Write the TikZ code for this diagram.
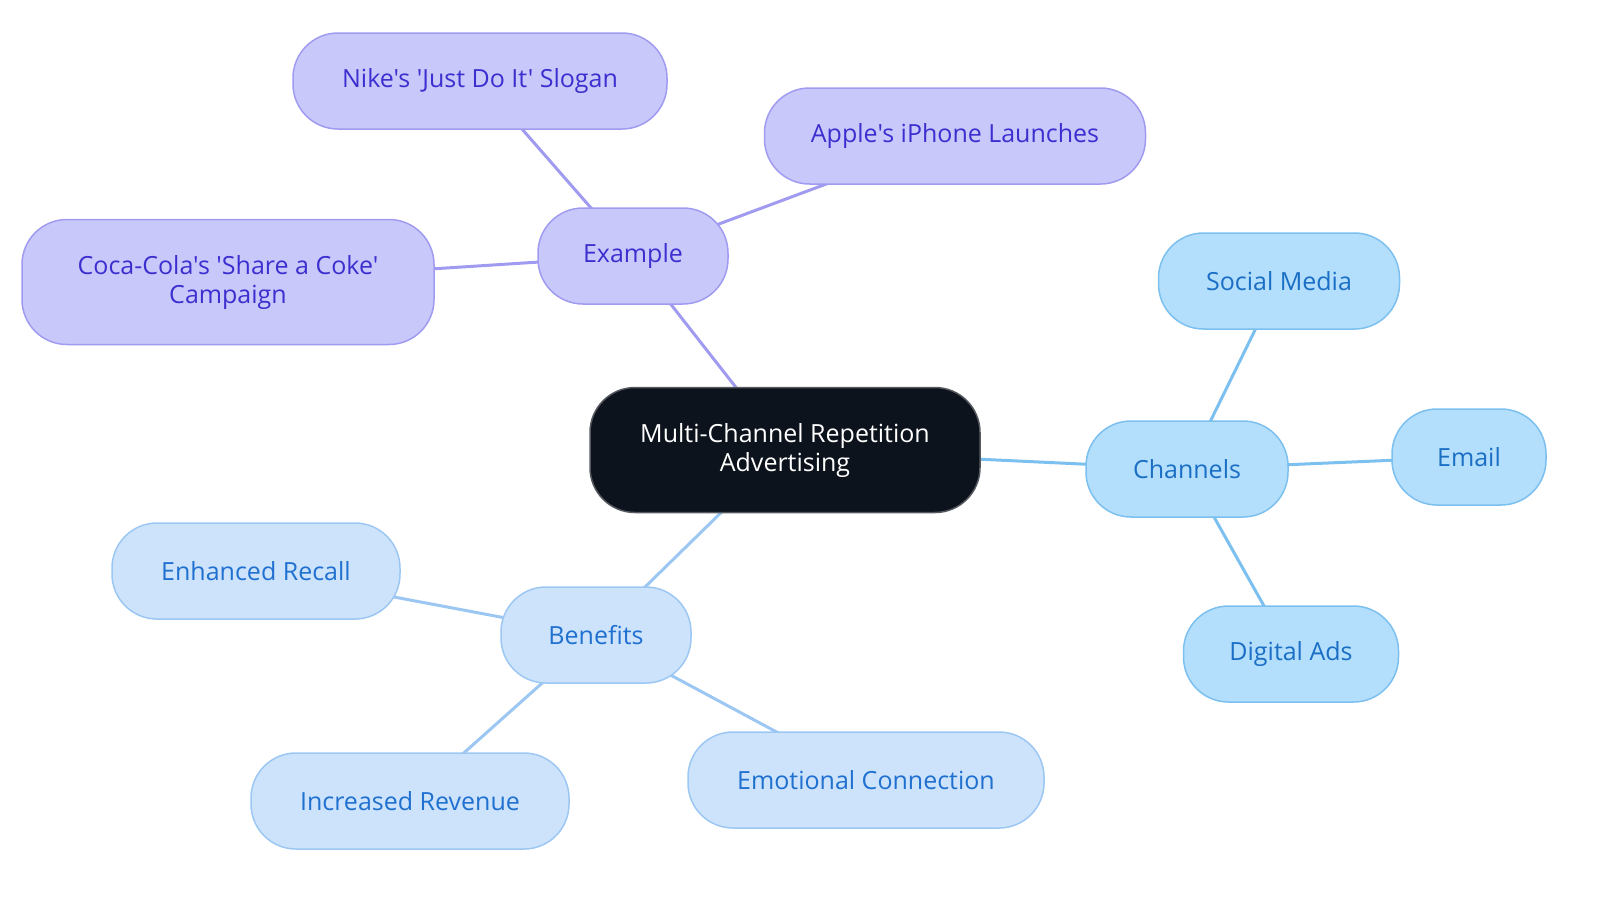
\documentclass[tikz,border=0pt]{standalone}
\usepackage{fontspec}
\setmainfont{Open Sans}[Ligatures=TeXOff]
\usetikzlibrary{backgrounds}
\definecolor{pf}{HTML}{C9C8FB}\definecolor{pb}{HTML}{A09BF0}\definecolor{pt}{HTML}{3C2FCF}
\definecolor{bf}{HTML}{B3DEFC}\definecolor{bb}{HTML}{7CC0F0}\definecolor{bt}{HTML}{1A6FC4}
\definecolor{lf}{HTML}{CCE3FB}\definecolor{lb}{HTML}{9DC7F3}\definecolor{lt}{HTML}{2070D0}
\definecolor{cf}{HTML}{0D131C}
\begin{document}
\begin{tikzpicture}[x=1pt,y=-1pt,
  box/.style={rounded corners=45pt,line width=1.5pt,inner sep=0pt,minimum height=96pt,align=center,font=\fontsize{25}{29}\selectfont},
  P/.style={box,fill=pf,draw=pb,text=pt},
  B/.style={box,fill=bf,draw=bb,text=bt},
  L/.style={box,fill=lf,draw=lb,text=lt},
  pe/.style={draw=pb,line width=3pt},
  be/.style={draw=bb,line width=3pt},
  le/.style={draw=lb,line width=3pt}]
\useasboundingbox (0,0) rectangle (1600,903);
\node[box,fill=cf,draw=cf!70,text=white,minimum width=390pt,minimum height=125pt] (c) at (785,450) {Multi-Channel Repetition\\Advertising};
\node[P,minimum width=190pt] (ex) at (633,256) {Example};
\node[P,minimum width=374pt] (nike) at (480,81) {Nike's 'Just Do It' Slogan};
\node[P,minimum width=381pt] (apple) at (955,136) {Apple's iPhone Launches};
\node[P,minimum width=412pt,minimum height=125pt] (coca) at (228,282) {Coca-Cola's 'Share a Coke'\\Campaign};
\node[B,minimum width=202pt] (ch) at (1187,469) {Channels};
\node[B,minimum width=241pt] (soc) at (1279,281) {Social Media};
\node[B,minimum width=154pt] (em) at (1469,457) {Email};
\node[B,minimum width=215pt] (dig) at (1291,654) {Digital Ads};
\node[L,minimum width=190pt] (ben) at (596,635) {Benefits};
\node[L,minimum width=288pt] (enh) at (256,571) {Enhanced Recall};
\node[L,minimum width=318pt] (rev) at (410,801) {Increased Revenue};
\node[L,minimum width=356pt] (emo) at (866,780) {Emotional Connection};
\begin{scope}[on background layer]
\path[pe] (c.center)--(ex.center) (ex.center)--(nike.center) (ex.center)--(apple.center) (ex.center)--(coca.center);
\path[be] (c.center)--(ch.center) (ch.center)--(soc.center) (ch.center)--(em.center) (ch.center)--(dig.center);
\path[le] (c.center)--(ben.center) (ben.center)--(enh.center) (ben.center)--(rev.center) (ben.center)--(emo.center);
\end{scope}
\end{tikzpicture}
\end{document}
